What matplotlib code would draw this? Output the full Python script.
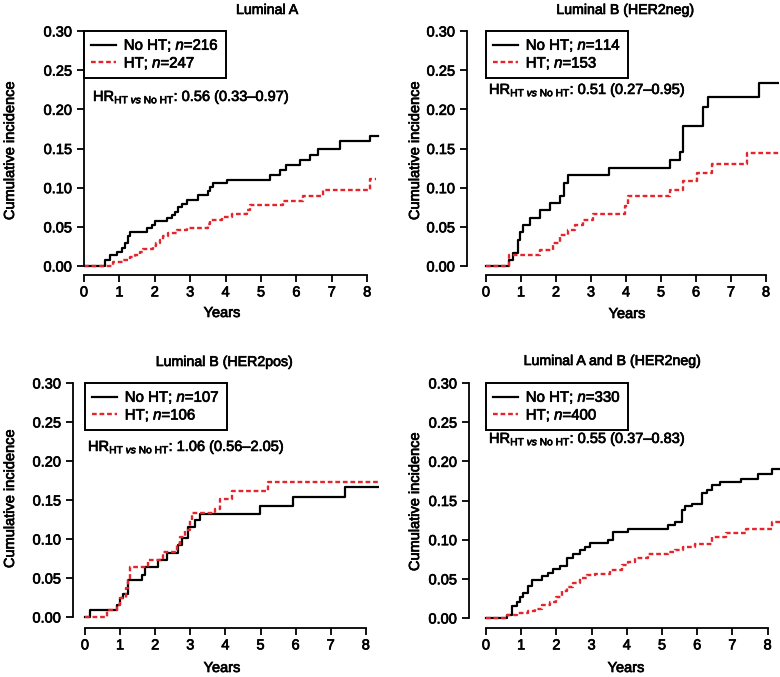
import numpy as np
import matplotlib
matplotlib.use("Agg")
import matplotlib.pyplot as plt
import matplotlib.patheffects as pe
from matplotlib.lines import Line2D

plt.rcParams["font.family"] = ["Liberation Sans", "DejaVu Sans"]
plt.rcParams["mathtext.fontset"] = "custom"
plt.rcParams["mathtext.rm"] = "Liberation Sans"
plt.rcParams["mathtext.it"] = "Liberation Sans:italic"
plt.rcParams["mathtext.bf"] = "Liberation Sans:bold"

RED = "#e4262c"
HEAVY = [pe.withStroke(linewidth=0.5, foreground="black")]

# ---- data ----
titles = ["Luminal A", "Luminal B (HER2neg)", "Luminal B (HER2pos)", "Luminal A and B (HER2neg)"]
n_noht = [216, 114, 107, 330]
n_ht = [247, 153, 106, 400]
hr_text = ["0.56 (0.33\u20130.97)", "0.51 (0.27\u20130.95)", "1.06 (0.56\u20132.05)", "0.55 (0.37\u20130.83)"]

lumA_t_noht = [0, 0.59, 0.73, 0.92, 1.06, 1.16, 1.25, 1.30, 1.77, 1.91, 2.00, 2.34, 2.48, 2.57, 2.66,
               2.76, 2.90, 3.23, 3.51, 3.56, 3.65, 4.03, 5.25, 5.55, 5.72, 6.10, 6.38, 6.62, 7.23, 8.08, 8.30]
lumA_ci_noht = [0, 0.008, 0.014, 0.018, 0.023, 0.029, 0.038, 0.044, 0.048, 0.052, 0.058, 0.061, 0.065, 0.069, 0.075,
                0.079, 0.084, 0.091, 0.096, 0.101, 0.106, 0.110, 0.116, 0.122, 0.129, 0.135, 0.142, 0.149, 0.159, 0.166, 0.166]
lumA_t_ht = [0, 0.83, 1.11, 1.30, 1.44, 1.58, 1.67, 1.96, 2.03, 2.15, 2.24, 2.36, 2.62, 2.90, 3.51, 3.56,
             3.89, 4.17, 4.60, 4.68, 5.63, 6.20, 6.76, 8.08, 8.25]
lumA_ci_ht = [0, 0.005, 0.008, 0.011, 0.014, 0.018, 0.022, 0.025, 0.029, 0.033, 0.038, 0.042, 0.046, 0.049, 0.053, 0.059,
              0.063, 0.067, 0.072, 0.078, 0.083, 0.089, 0.097, 0.111, 0.111]

lumBneg_t_noht = [0, 0.67, 0.76, 0.92, 0.98, 1.07, 1.26, 1.54, 1.83, 2.11, 2.24, 2.33, 3.50, 5.26, 5.54, 5.64,
                  6.21, 6.35, 7.80, 8.45]
lumBneg_ci_noht = [0, 0.008, 0.016, 0.033, 0.044, 0.052, 0.061, 0.071, 0.080, 0.089, 0.106, 0.116, 0.125, 0.135, 0.146, 0.179,
                   0.203, 0.216, 0.234, 0.234]
lumBneg_t_ht = [0, 0.67, 1.54, 1.92, 2.11, 2.35, 2.54, 2.78, 3.07, 3.98, 4.07, 5.26, 5.64, 6.02, 6.45, 7.45, 8.45]
lumBneg_ci_ht = [0, 0.014, 0.020, 0.030, 0.040, 0.046, 0.052, 0.059, 0.066, 0.076, 0.089, 0.097, 0.108, 0.119, 0.130, 0.144, 0.144]

lumBpos_t_noht = [0, 0.14, 0.90, 1.00, 1.09, 1.23, 1.61, 1.71, 2.09, 2.33, 2.66, 2.76, 2.94, 3.13, 3.28,
                  4.99, 5.93, 7.41, 8.35]
lumBpos_ci_noht = [0, 0.009, 0.015, 0.024, 0.030, 0.047, 0.054, 0.064, 0.073, 0.082, 0.092, 0.101, 0.116, 0.124, 0.132,
                   0.142, 0.154, 0.167, 0.167]
lumBpos_t_ht = [0, 0.62, 0.90, 1.00, 1.18, 1.23, 1.28, 1.80, 2.23, 2.61, 2.70, 2.85, 2.99, 3.04, 3.70,
                3.85, 4.18, 5.22, 8.35]
lumBpos_ci_ht = [0, 0.009, 0.015, 0.024, 0.037, 0.047, 0.064, 0.073, 0.083, 0.094, 0.102, 0.112, 0.124, 0.133, 0.139,
                 0.151, 0.161, 0.173, 0.173]

lumAB_t_noht = [0, 0.59, 0.73, 0.87, 0.97, 1.06, 1.20, 1.30, 1.58, 1.77, 1.91, 2.10, 2.29, 2.48, 2.67, 2.81,
                2.95, 3.47, 3.62, 4.04, 5.18, 5.37, 5.56, 5.65, 5.84, 6.14, 6.27, 6.41, 6.65, 7.24, 7.74, 8.12, 8.45]
lumAB_ci_noht = [0, 0.004, 0.015, 0.021, 0.027, 0.032, 0.041, 0.049, 0.053, 0.058, 0.063, 0.066, 0.076, 0.082, 0.087, 0.091,
                 0.096, 0.100, 0.110, 0.114, 0.119, 0.123, 0.138, 0.143, 0.146, 0.160, 0.164, 0.170, 0.173, 0.178, 0.184, 0.190, 0.190]
lumAB_t_ht = [0, 0.59, 0.87, 1.20, 1.39, 1.58, 1.82, 2.00, 2.15, 2.29, 2.48, 2.67, 2.86, 3.10, 3.52, 3.85,
              4.04, 4.23, 4.60, 5.18, 5.37, 5.60, 5.94, 6.41, 6.82, 7.39, 8.12, 8.45]
lumAB_ci_ht = [0, 0.004, 0.006, 0.009, 0.012, 0.016, 0.020, 0.027, 0.034, 0.040, 0.045, 0.051, 0.055, 0.056, 0.061, 0.068,
               0.072, 0.076, 0.082, 0.084, 0.087, 0.091, 0.095, 0.103, 0.109, 0.113, 0.122, 0.122]

series = [
    (lumA_t_noht, lumA_ci_noht, lumA_t_ht, lumA_ci_ht),
    (lumBneg_t_noht, lumBneg_ci_noht, lumBneg_t_ht, lumBneg_ci_ht),
    (lumBpos_t_noht, lumBpos_ci_noht, lumBpos_t_ht, lumBpos_ci_ht),
    (lumAB_t_noht, lumAB_ci_noht, lumAB_t_ht, lumAB_ci_ht),
]

# ---- layout in pixels: y-axis x, x=0 px, px per year, y=0 px, y=0.30 px, x-axis y ----
W, H = 780, 677
layout = [
    (84, 84, 35.4, 266, 31, 275),
    (467, 486, 35.0, 266, 31, 275),
    (73, 85, 35.1, 617, 383, 628),
    (469, 486, 35.2, 618, 383, 628),
]
title_pos = [(267, 10), (625, 10), (224, 362), (612, 361)]
xlabel_pos = [(222, 313), (627, 314), (222, 668), (626, 668)]
ylabel_pos = [(10, 150), (415, 150), (10, 498), (415, 501)]
hr_pos = [(93, 97), (489, 90), (88, 447), (489, 439)]

fig = plt.figure(figsize=(W / 100, H / 100), dpi=100)

for i in range(4):
    yax, x0, ppy, y0, y30, xax = layout[i]
    right = min(x0 + 8.38 * ppy, W)
    ax = fig.add_axes([yax / W, 1 - xax / H, (right - yax) / W, (xax - y30) / H])
    ppv = (y0 - y30) / 0.30
    ax.set_xlim((yax - x0) / ppy, (right - x0) / ppy)
    ax.set_ylim(-(xax - y0) / ppv, 0.30)

    t1, c1, t2, c2 = series[i]
    ax.step(t1, c1, where="post", color="black", lw=1.6)
    ax.step(t2, c2, where="post", color=RED, lw=1.7, dashes=(2.0, 1.2))

    for s in ["top", "right"]:
        ax.spines[s].set_visible(False)
    ax.spines["left"].set_bounds(0, 0.30)
    ax.spines["bottom"].set_bounds(0, 8)
    for s in ["left", "bottom"]:
        ax.spines[s].set_linewidth(1.3)
    ax.set_xticks(range(0, 9))
    ax.set_yticks(np.arange(0, 0.31, 0.05))
    ax.set_yticklabels(["%.2f" % v for v in np.arange(0, 0.31, 0.05)])
    ax.tick_params(length=5, width=1.3, labelsize=10.5, pad=2.5)
    ax.tick_params(axis="y", pad=3.5)
    for lab in ax.get_xticklabels() + ax.get_yticklabels():
        lab.set_path_effects(HEAVY)

    handles = [Line2D([], [], color="black", lw=1.6),
               Line2D([], [], color=RED, lw=1.7, dashes=(2.0, 1.2))]
    labels = ["No HT; $\\mathit{n}$=%d" % n_noht[i], "HT; $\\mathit{n}$=%d" % n_ht[i]]
    leg = ax.legend(handles, labels, loc="upper left", bbox_to_anchor=(0, 0.30),
                    bbox_transform=ax.transData, borderaxespad=0, fontsize=10.8,
                    fancybox=False, framealpha=1, edgecolor="black",
                    handlelength=1.7, handletextpad=0.5, labelspacing=0.12, borderpad=0.45)
    leg.get_frame().set_linewidth(1.4)
    for txt in leg.get_texts():
        txt.set_path_effects(HEAVY)

    kw = dict(ha="center", va="center", path_effects=HEAVY)
    fig.text(title_pos[i][0] / W, 1 - title_pos[i][1] / H, titles[i], fontsize=10.2, **kw)
    fig.text(xlabel_pos[i][0] / W, 1 - xlabel_pos[i][1] / H, "Years", fontsize=10.5, **kw)
    fig.text(ylabel_pos[i][0] / W, 1 - ylabel_pos[i][1] / H, "Cumulative incidence",
             rotation=90, fontsize=10.5, **kw)
    fig.text(hr_pos[i][0] / W, 1 - hr_pos[i][1] / H,
             "HR$_{\\mathrm{HT}\\ \\mathit{vs}\\ \\mathrm{No\\ HT}}$: " + hr_text[i],
             ha="left", va="center", fontsize=10.5, path_effects=HEAVY)

fig.savefig("out.png", dpi=100)
